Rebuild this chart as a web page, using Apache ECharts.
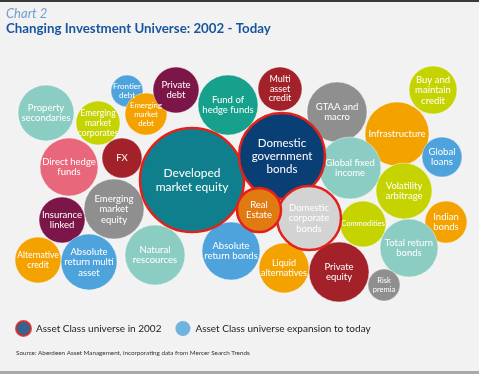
<!DOCTYPE html>
<html>
<head>
<meta charset="utf-8">
<script src="https://cdn.jsdelivr.net/npm/echarts@6/dist/echarts.min.js"></script>
<style>
html,body{margin:0;padding:0;background:#f2f2f2;}
#c{width:479px;height:374px;}
</style>
</head>
<body>
<div id="c"></div>
<script>
// ---- data ----
const names = [
  'Property\nsecondaries','Emerging\nmarket\ncorporates','Frontier\ndebt','Emerging\nmarket\ndebt','Private\ndebt',
  'Fund of\nhedge funds','Multi\nasset\ncredit','GTAA and\nmacro','Buy and\nmaintain\ncredit','Infrastructure',
  'Global\nloans','Developed\nmarket equity','Domestic\ngovernment\nbonds','Global fixed\nincome','Volatility\narbitrage',
  'Indian\nbonds','Commodities','Total return\nbonds','Risk\npremia','Private\nequity',
  'Liquid\nalternatives','Domestic\ncorporate\nbonds','Real\nEstate','Absolute\nreturn bonds','Natural\nrescources',
  'Emerging\nmarket\nequity','Direct hedge\nfunds','FX','Insurance\nlinked','Alternative\ncredit',
  'Absolute\nreturn multi\nasset'
];
const xVals = [46,98,127,146,176, 228,280,337,433,397, 442,192,282,350,404, 446,363,409,384,339, 284,309,259,231,155, 114,69,122,62,38, 89];
const yVals = [113,123,91,114,90, 105,89,112,90,134, 157,180,156,168,191, 222,224,248,285,272, 268,218,210,251,255, 209,167,158,220,260, 262];
const radius = [28,22,16,21,23, 30,22,30,24,32, 20,52,43,31,28, 21,23,29,16,30, 25,32,22,29,30, 30,29,20,23,23, 28];
const group = ['tealLight','lime','blue','orange','maroon', 'teal','darkRed','gray','lime','orange',
  'blue','tealDark','navy','tealLight','lime', 'orange','lime','tealLight','gray','darkRed',
  'orange','lightGray','orangeDark','blue','tealLight', 'gray','pink','darkRed','maroon','orange', 'blue'];
const in2002 = ['Developed\nmarket equity','Domestic\ngovernment\nbonds','Domestic\ncorporate\nbonds','Real\nEstate'];
const legendNames = ['Asset Class universe in 2002','Asset Class universe expansion to today'];
const titleText = 'Chart 2';
const subtitleText = 'Changing Investment Universe: 2002 - Today';
const sourceText = 'Source: Aberdeen Asset Management, incorporating data from Mercer Search Trends';

// ---- styles ----
const palette = {
  tealLight:'#8ccdc3', lime:'#c5d400', blue:'#4ea3dc', orange:'#f4a200', maroon:'#7c1548',
  teal:'#17a08c', darkRed:'#a3222a', gray:'#8f8f8f', tealDark:'#0f7f8d', navy:'#0a3f75',
  lightGray:'#d3d3d3', orangeDark:'#e27a12', pink:'#e8677b'
};
const fontOverride = {
  'Developed\nmarket equity':12, 'Domestic\ngovernment\nbonds':11.5, 'Emerging\nmarket\ndebt':7.8,
  'Commodities':7.5, 'Risk\npremia':7.5, 'Frontier\ndebt':8, 'Multi\nasset\ncredit':9,
  'Emerging\nmarket\ncorporates':8.6, 'Alternative\ncredit':8.6, 'Liquid\nalternatives':9
};
const lineOverride = {
  'Developed\nmarket equity':14, 'Domestic\ngovernment\nbonds':13, 'Emerging\nmarket\ndebt':9,
  'Risk\npremia':9, 'Frontier\ndebt':9.5, 'Multi\nasset\ncredit':9.5, 'Emerging\nmarket\ncorporates':10
};
const FONT = 'Lato, "Open Sans", sans-serif';

function makeItem(i){
  const old = in2002.indexOf(names[i]) >= 0;
  return {
    name: names[i],
    value: [xVals[i], yVals[i], radius[i]],
    itemStyle: {
      color: palette[group[i]],
      borderColor: old ? '#e3211b' : 'rgba(255,255,255,0.5)',
      borderWidth: old ? 2.5 : 0.8,
      opacity: 1
    },
    label: { fontSize: fontOverride[names[i]] || 9.5, lineHeight: lineOverride[names[i]] || 10.5 }
  };
}
const oldData = [], newData = [];
names.forEach((n,i)=>{ (in2002.indexOf(n)>=0 ? oldData : newData).push(makeItem(i)); });

const common = {
  type:'scatter',
  symbol:'circle',
  symbolSize: v => v[2]*2,
  label:{
    show:true, position:'inside', color:'#ffffff', fontFamily:FONT,
    formatter: p => p.name
  },
  emphasis:{disabled:true},
  animation:false
};

const chart = echarts.init(document.getElementById('c'), null, {renderer:'canvas'});
chart.setOption({
  backgroundColor:'#f2f2f2',
  animation:false,
  grid:{left:0,right:0,top:0,bottom:0},
  xAxis:{type:'value',min:0,max:479,show:false},
  yAxis:{type:'value',min:0,max:374,inverse:true,show:false},
  legend:{
    left:15, top:320, padding:0, itemGap:14, itemWidth:15, itemHeight:15,
    icon:'circle',
    textStyle:{fontFamily:FONT,fontSize:10,color:'#222'},
    data:[
      {name:legendNames[0], itemStyle:{color:palette.navy,borderColor:'#e3211b',borderWidth:2}},
      {name:legendNames[1], itemStyle:{color:palette.blue,borderWidth:0}}
    ]
  },
  graphic:[
    {type:'rect',shape:{x:0,y:0,width:479,height:2},style:{fill:'#3a3a3a'}},
    {type:'rect',shape:{x:0,y:371,width:479,height:3},style:{fill:'#a9a9a9'}},
    {type:'text',left:6,top:7,style:{text:titleText,fontFamily:FONT,fontStyle:'italic',fontSize:13,fill:'#6f9dd3'}},
    {type:'text',left:6,top:22,style:{text:subtitleText,fontFamily:FONT,fontWeight:'bold',fontSize:13.3,fill:'#17569f'}},
    {type:'text',left:16,top:350,style:{text:sourceText,fontFamily:FONT,fontSize:6.3,fill:'#333'}}
  ],
  series:[
    Object.assign({name:legendNames[0], data:oldData, z:3}, common),
    Object.assign({name:legendNames[1], data:newData, z:2}, common)
  ]
});
</script>
</body>
</html>
